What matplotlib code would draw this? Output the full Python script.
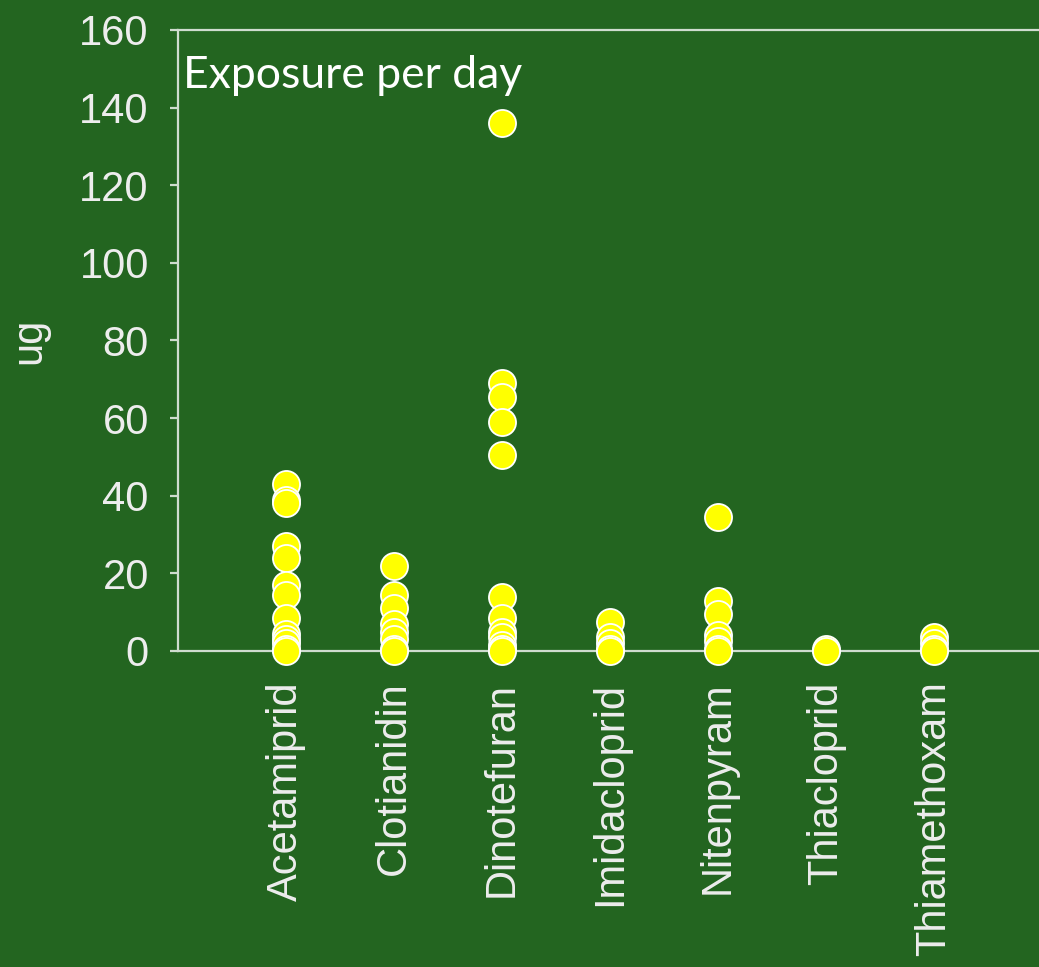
import numpy as np
import matplotlib
matplotlib.use('Agg')
import matplotlib.pyplot as plt

# 카테고리별 노출량 (ug / day)
categories = ['Acetamiprid', 'Clotianidin', 'Dinotefuran', 'Imidacloprid',
              'Nitenpyram', 'Thiacloprid', 'Thiamethoxam']
acetamiprid = [43, 39, 38, 27, 24, 17, 14.5, 8.5, 4.5, 3, 2, 0.5, 0]
clotianidin = [22, 14.5, 11, 7, 5, 3, 0.5, 0]
dinotefuran = [136, 69, 65.5, 59, 50.5, 14, 8.5, 5, 3.5, 1.5, 0.5, 0]
imidacloprid = [7.5, 3.5, 2, 0.5, 0]
nitenpyram = [34.5, 13, 9.5, 4, 2.5, 0.5, 0]
thiacloprid = [0.5, 0]
thiamethoxam = [3.5, 2, 0.5, 0]
series = [acetamiprid, clotianidin, dinotefuran, imidacloprid,
          nitenpyram, thiacloprid, thiamethoxam]
yticks = [0, 20, 40, 60, 80, 100, 120, 140, 160]

bg = '#236520'
fg = '#ededed'
line = '#cfdccf'

plt.rcParams['font.family'] = ['Liberation Sans']

fig = plt.figure(figsize=(10.39, 9.67), dpi=100, facecolor=bg)
ax = fig.add_axes([0.1713, 0.3268, 0.8316, 0.6422], facecolor=bg)

for i, vals in enumerate(series):
    ax.scatter(np.full(len(vals), i + 1), vals, s=380, color='#ffff00',
               edgecolors='white', linewidths=1.3, zorder=3, clip_on=False)

ax.set_xlim(0, 8)
ax.set_ylim(0, 160)
ax.set_yticks(yticks)
ax.set_xticks(range(1, len(categories) + 1))
ax.set_xticklabels(categories, rotation=90, va='top', ha='center')

for side in ['left', 'top', 'bottom']:
    ax.spines[side].set_color(line)
    ax.spines[side].set_linewidth(1.6)
ax.spines['right'].set_visible(False)

ax.tick_params(axis='y', colors=line, labelcolor=fg, labelsize=30,
               length=6, width=1.6, pad=15)
ax.tick_params(axis='x', colors=line, labelcolor=fg, labelsize=30,
               length=0, pad=22)

ax.set_ylabel('ug', color=fg, fontsize=30, labelpad=22)

ax.text(0.006, 0.96, 'Exposure per day', transform=ax.transAxes,
        color='white', fontsize=32, family=['Lato', 'DejaVu Sans'],
        ha='left', va='top')

plt.savefig('out.png', dpi=100, facecolor=bg)
